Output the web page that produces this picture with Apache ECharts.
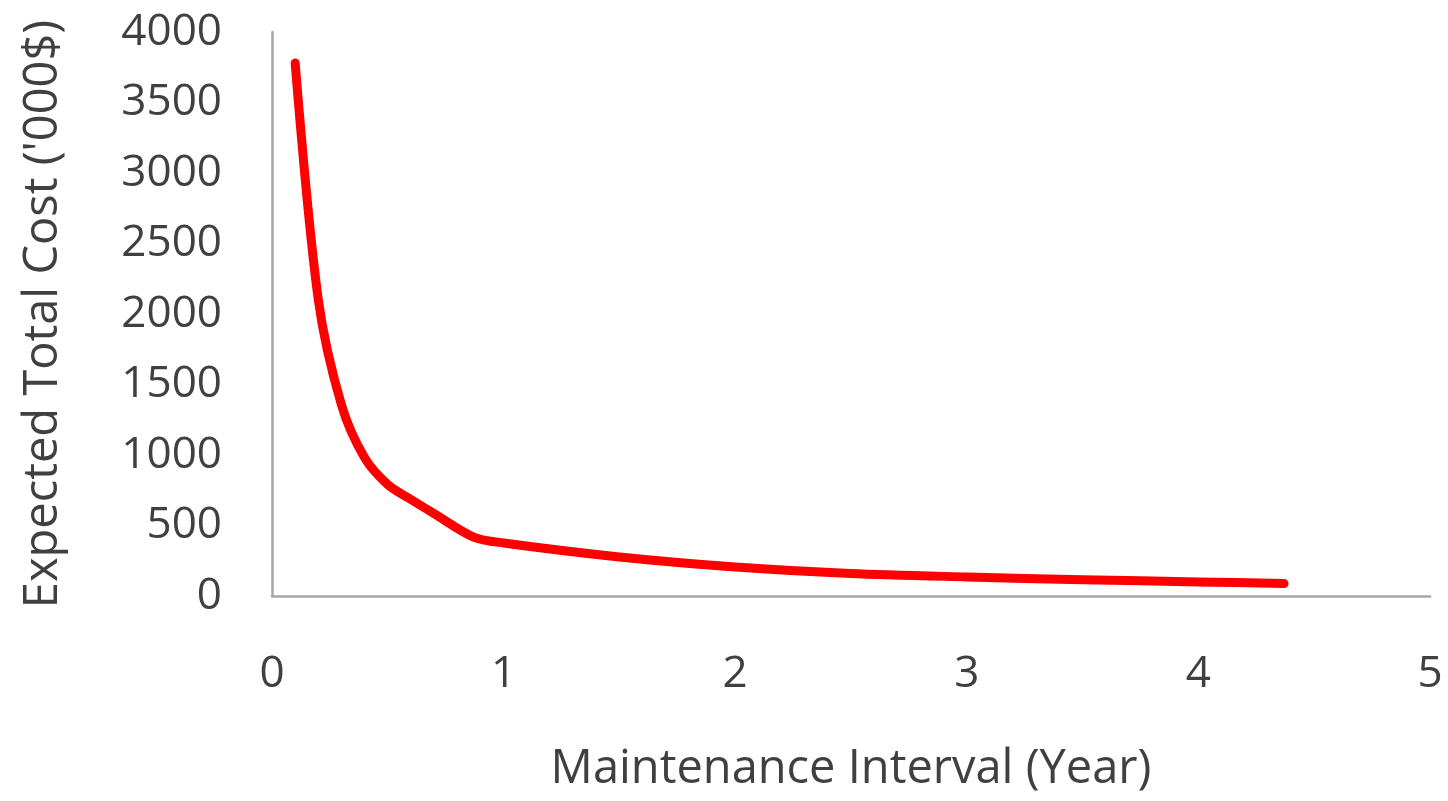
<!DOCTYPE html>
<html>
<head>
<meta charset="utf-8">
<script src="https://cdn.jsdelivr.net/npm/echarts@6/dist/echarts.min.js"></script>
<style>
html,body{margin:0;padding:0;background:#fff;}
#c{width:1448px;height:801px;}
</style>
</head>
<body>
<div id="c"></div>
<script>
const intervals = [0.1, 0.2, 0.3, 0.4, 0.5, 0.6, 0.7, 0.87, 1.0, 1.5, 2.0, 2.5, 3.0, 3.5, 4.0, 4.37];
const costs = [3780, 2100, 1355, 980, 790, 684, 584, 418, 376, 277, 206, 160, 135, 115, 100, 88];
const xTicks = [0, 1, 2, 3, 4, 5];
const yTicks = [0, 500, 1000, 1500, 2000, 2500, 3000, 3500, 4000];
const xTitle = 'Maintenance Interval (Year)';
const yTitle = "Expected Total Cost ('000$)";

const points = intervals.map((x, i) => [x, costs[i]]);
const font = "'Open Sans', sans-serif";
const txt = '#404040';

const chart = echarts.init(document.getElementById('c'));
chart.setOption({
  animation: false,
  backgroundColor: '#ffffff',
  grid: {left: 272, right: 18, top: 32, bottom: 205},
  xAxis: {
    type: 'value', min: xTicks[0], max: xTicks[xTicks.length - 1], interval: 1,
    name: xTitle, nameLocation: 'middle', nameGap: 150,
    nameTextStyle: {fontFamily: font, fontSize: 47, color: txt},
    axisLine: {show: true, lineStyle: {color: '#a6a6a6', width: 2.5}},
    axisTick: {show: false},
    splitLine: {show: false},
    axisLabel: {fontFamily: font, fontSize: 44, color: txt, margin: 56, formatter: v => String(v)}
  },
  yAxis: {
    type: 'value', min: yTicks[0], max: yTicks[yTicks.length - 1], interval: 500,
    name: yTitle, nameLocation: 'middle', nameGap: 205, nameRotate: 90,
    nameTextStyle: {fontFamily: font, fontSize: 47, color: txt},
    axisLine: {show: true, lineStyle: {color: '#a6a6a6', width: 2.5}},
    axisTick: {show: false},
    splitLine: {show: false},
    axisLabel: {fontFamily: font, fontSize: 44, color: txt, margin: 50, formatter: v => String(v)}
  },
  series: [{
    type: 'line',
    data: points,
    smooth: 0.3,
    showSymbol: false,
    symbol: 'none',
    lineStyle: {color: '#ff0000', width: 9, cap: 'round', join: 'round'}
  }]
});
</script>
</body>
</html>
